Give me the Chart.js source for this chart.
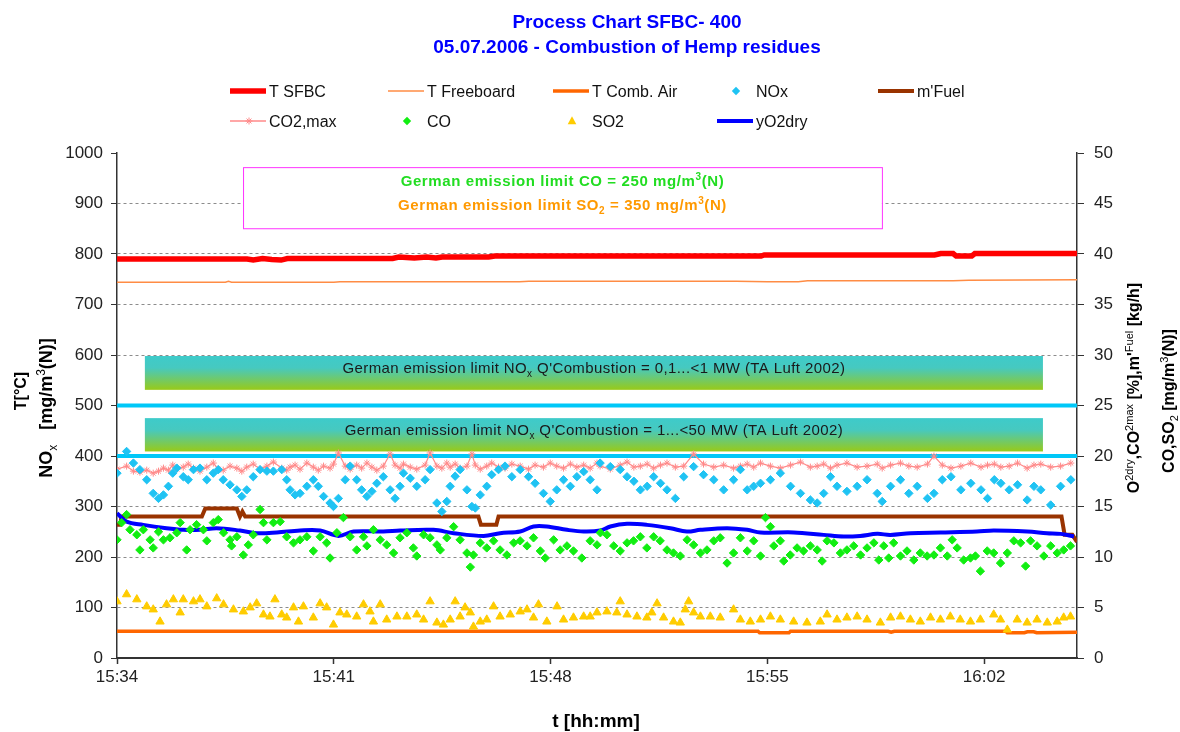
<!DOCTYPE html>
<html>
<head>
<meta charset="utf-8">
<title>Process Chart SFBC-400</title>
<script src="https://cdn.jsdelivr.net/npm/chart.js@4.4.1/dist/chart.umd.min.js"></script>
<style>
  html, body { margin: 0; padding: 0; background: #fff; }
  #chartBox { width: 1180px; height: 732px; }
</style>
</head>
<body>
<div id="chartBox"><canvas id="processChart" width="1180" height="732"></canvas></div>
<script>
// time is in minutes after 15:34
const xTickMinutes = [0, 7, 14, 21, 28];
const xTickLabels = ['15:34', '15:41', '15:48', '15:55', '16:02'];

// temperatures [°C], left axis
const tSfbcTime = [0, 4.2, 4.4, 4.7, 5.0, 5.3, 5.5, 8.9, 9.1, 9.6, 10.0, 10.3, 10.5, 12.0, 12.2, 20.8, 20.9, 26.4, 26.6, 27.0, 27.1, 27.6, 27.7, 31];
const tSfbcValue = [790, 790, 788, 791, 789, 788, 791, 791, 794, 792, 794, 792, 794, 794, 796, 796, 798, 798, 801, 801, 796, 796, 801, 801];
const tFreeTime = [0, 3.5, 3.6, 3.7, 7.0, 7.2, 13.0, 13.3, 20.0, 21.0, 22.0, 22.3, 27.0, 27.5, 31];
const tFreeValue = [744, 744, 746, 744, 744, 745, 745, 746, 746, 745, 745, 747, 747, 748, 749];
const tAirTime = [0, 20.7, 20.75, 21.7, 21.75, 24.9, 25.0, 25.1, 28.7, 28.75, 29.3, 29.4, 29.6, 29.7, 31];
const tAirValue = [53, 53, 50, 50, 53, 53, 51, 53, 53, 50, 50, 52, 52, 50, 51];

// NOx [mg/m3(N)], left axis (CO2,max sampled at the same instants)
const noxTime = [0, 0.31, 0.53, 0.74, 0.96, 1.17, 1.34, 1.5, 1.66, 1.8,
  1.93, 2.14, 2.3, 2.47, 2.68, 2.9, 3.11, 3.27, 3.43, 3.65,
  3.87, 4.03, 4.19, 4.4, 4.62, 4.84, 5.05, 5.32, 5.48, 5.59,
  5.75, 5.91, 6.13, 6.34, 6.5, 6.67, 6.88, 6.99, 7.15, 7.37,
  7.53, 7.74, 7.9, 8.07, 8.23, 8.39, 8.6, 8.82, 8.98, 9.14,
  9.25, 9.47, 9.68, 9.95, 10.11, 10.33, 10.49, 10.65, 10.76, 10.92,
  11.08, 11.3, 11.46, 11.57, 11.73, 11.94, 12.1, 12.32, 12.53, 12.75,
  13.02, 13.29, 13.5, 13.77, 13.99, 14.2, 14.42, 14.64, 14.85, 15.07,
  15.28, 15.5, 15.6, 15.93, 16.25, 16.47, 16.69, 16.9, 17.12, 17.33,
  17.55, 17.76, 18.03, 18.3, 18.62, 18.94, 19.27, 19.59, 19.91, 20.13,
  20.35, 20.56, 20.78, 21.1, 21.42, 21.75, 22.07, 22.39, 22.61, 22.82,
  23.04, 23.25, 23.57, 23.9, 24.22, 24.55, 24.71, 24.98, 25.3, 25.57,
  25.84, 26.17, 26.38, 26.65, 26.93, 27.25, 27.57, 27.9, 28.11, 28.33,
  28.54, 28.81, 29.08, 29.39, 29.61, 29.83, 30.15, 30.47, 30.8];
const noxValue = [366, 409, 386, 373, 353, 326, 316, 323, 340, 366,
  376, 359, 353, 373, 376, 353, 366, 373, 353, 343,
  333, 320, 333, 359, 373, 370, 370, 373, 353, 333,
  323, 326, 340, 353, 340, 320, 307, 300, 316, 353,
  380, 353, 333, 320, 330, 346, 359, 333, 316, 340,
  366, 356, 340, 353, 373, 307, 290, 310, 340, 360,
  373, 333, 300, 297, 323, 340, 363, 373, 380, 359,
  373, 359, 346, 326, 310, 333, 353, 340, 359, 369,
  353, 333, 386, 379, 373, 359, 350, 333, 340, 359,
  346, 333, 316, 359, 379, 363, 353, 333, 353, 373,
  333, 340, 346, 353, 366, 340, 326, 313, 307, 326,
  359, 340, 330, 340, 353, 326, 310, 340, 353, 326,
  340, 316, 326, 353, 359, 333, 346, 333, 316, 353,
  346, 333, 343, 313, 340, 333, 303, 340, 353];
const noxLimitTime = [0, 31];
const noxLimitHigh = [500, 500];
const noxLimitLow = [400, 400];

// right axis: CO2,max [%], O2 dry [%], fuel mass flow [kg/h], CO and SO2
const co2Value = [18.7, 19.0, 18.5, 18.4, 18.6, 18.3, 18.5, 18.8, 18.6, 19.1,
  18.7, 18.9, 19.2, 18.8, 18.5, 18.9, 19.3, 18.7, 18.6, 19.0,
  18.8, 18.5, 18.9, 19.2, 18.7, 19.0, 19.4, 18.8, 18.6, 18.9,
  19.1, 18.7, 19.3, 18.9, 18.6, 19.0, 18.8, 19.2, 20.3, 19.0,
  18.7, 19.1, 18.8, 19.3, 18.9, 18.6, 19.0, 20.2, 19.1, 18.8,
  19.2, 18.9, 18.7, 19.1, 20.3, 19.0, 18.8, 19.3, 18.9, 19.2,
  18.8, 19.0, 20.2, 19.1, 18.7, 19.0, 19.3, 18.9, 18.8, 19.2,
  19.0, 18.7, 19.1, 18.9, 19.3, 19.0, 18.8, 19.2, 18.9, 19.1,
  18.8, 19.3, 19.0, 18.7, 19.1, 19.4, 18.9, 19.0, 19.2, 18.8,
  19.1, 19.3, 18.9, 19.0, 20.2, 19.2, 18.9, 19.1, 18.8, 19.0,
  19.2, 18.9, 19.3, 19.0, 18.8, 19.1, 19.4, 18.9, 19.0, 19.2,
  18.8, 19.1, 19.3, 18.9, 19.0, 19.2, 18.8, 19.1, 19.3, 19.0,
  18.9, 19.2, 20.0, 19.1, 18.8, 19.0, 19.3, 18.9, 19.1, 19.2,
  18.9, 19.0, 19.3, 18.8, 19.1, 19.2, 18.9, 19.0, 19.3];

const o2Time = [0, 0.31, 0.85, 1.6, 2.14, 2.68, 3.22, 3.97, 4.51, 5.16,
  5.91, 6.56, 7.15, 7.64, 8.6, 9.14, 10.22, 10.87, 11.84, 12.37,
  13.02, 13.45, 13.88, 14.53, 15.07, 15.61, 15.93, 16.47, 17.11, 17.87,
  18.4, 18.84, 19.7, 20.35, 20.78, 21.85, 22.82, 23.47, 24.0, 24.55,
  24.97, 25.62, 26.59, 27.77, 28.31, 29.39, 30.03, 30.47, 30.9];
const o2Value = [14.34, 13.51, 13.18, 12.85, 12.69, 12.69, 12.85, 12.62, 12.36, 12.43,
  12.62, 12.62, 12.09, 12.52, 12.52, 12.62, 12.69, 12.36, 12.09, 12.36,
  12.52, 13.02, 13.02, 12.69, 12.52, 12.62, 13.02, 13.28, 13.18, 12.85,
  12.52, 12.69, 12.85, 12.69, 12.43, 12.43, 12.19, 12.03, 12.09, 12.29,
  12.19, 12.36, 12.43, 12.52, 12.62, 12.52, 12.36, 12.29, 12.03];

const fuelTime = [0, 0.1, 0.15, 2.74, 2.85, 3.87, 3.97, 4.05, 4.14, 11.67, 11.75, 12.25, 12.32, 30.5, 30.6, 30.85, 31];
const fuelValue = [13.2, 13.2, 14.0, 14.0, 14.8, 14.8, 14.0, 14.5, 14.0, 14.0, 13.2, 13.2, 14.0, 14.0, 12.2, 12.2, 11.5];

const coTime = [0, 0.15, 0.31, 0.42, 0.64, 0.74, 0.85, 1.07, 1.17, 1.34,
  1.5, 1.71, 1.93, 2.04, 2.25, 2.36, 2.57, 2.79, 2.9, 3.11,
  3.27, 3.44, 3.65, 3.7, 3.87, 4.08, 4.24, 4.4, 4.62, 4.73,
  4.84, 5.05, 5.27, 5.48, 5.7, 5.91, 6.13, 6.34, 6.56, 6.77,
  6.88, 7.1, 7.31, 7.53, 7.74, 7.96, 8.07, 8.28, 8.5, 8.71,
  8.93, 9.14, 9.36, 9.57, 9.68, 9.9, 10.11, 10.33, 10.44, 10.65,
  10.87, 11.08, 11.3, 11.41, 11.51, 11.73, 11.94, 12.16, 12.37, 12.59,
  12.81, 13.02, 13.24, 13.45, 13.67, 13.83, 14.1, 14.31, 14.53, 14.74,
  15.01, 15.28, 15.5, 15.61, 15.82, 16.04, 16.25, 16.47, 16.68, 16.9,
  17.11, 17.33, 17.54, 17.76, 17.97, 18.19, 18.41, 18.62, 18.84, 19.05,
  19.27, 19.48, 19.7, 19.91, 20.13, 20.35, 20.56, 20.78, 20.94, 21.1,
  21.21, 21.42, 21.53, 21.74, 21.96, 22.17, 22.39, 22.61, 22.77, 22.93,
  23.15, 23.36, 23.57, 23.79, 24.01, 24.22, 24.44, 24.6, 24.76, 24.92,
  25.08, 25.3, 25.51, 25.73, 25.94, 26.16, 26.38, 26.59, 26.81, 26.97,
  27.13, 27.34, 27.56, 27.72, 27.88, 28.1, 28.31, 28.53, 28.75, 28.96,
  29.18, 29.34, 29.5, 29.71, 29.93, 30.15, 30.36, 30.57, 30.79];
const coValue = [11.7, 13.4, 14.2, 12.7, 12.2, 10.7, 12.7, 11.7, 10.9, 12.5,
  11.7, 11.9, 12.4, 13.4, 10.7, 12.7, 13.2, 12.7, 11.6, 13.4,
  13.7, 12.4, 11.7, 11.1, 12.0, 10.2, 11.2, 12.2, 14.7, 13.4,
  11.7, 13.4, 13.5, 12.0, 11.4, 11.7, 12.0, 10.6, 12.0, 11.4,
  9.9, 12.4, 13.9, 12.0, 10.7, 12.0, 11.1, 12.7, 11.7, 11.2,
  10.4, 11.9, 12.4, 10.9, 10.1, 12.2, 11.9, 11.2, 10.7, 11.9,
  13.0, 11.7, 10.4, 9.0, 10.2, 11.4, 10.9, 11.6, 10.7, 10.2,
  11.4, 11.6, 11.1, 11.9, 10.6, 9.9, 11.7, 10.7, 11.1, 10.6,
  9.9, 11.6, 11.2, 12.4, 12.2, 11.1, 10.6, 11.4, 11.6, 12.0,
  10.9, 12.0, 11.6, 10.7, 10.4, 10.1, 11.7, 11.2, 10.4, 10.7,
  11.6, 11.9, 9.4, 10.4, 11.9, 10.6, 11.6, 10.1, 13.9, 13.0,
  11.1, 11.6, 9.6, 10.2, 10.9, 10.6, 11.1, 10.7, 9.6, 11.6,
  11.4, 10.4, 10.7, 11.1, 10.2, 10.9, 11.4, 9.7, 11.1, 9.9,
  11.4, 10.1, 10.6, 9.7, 10.4, 10.1, 10.2, 10.9, 10.1, 11.7,
  10.9, 9.7, 9.9, 10.1, 8.6, 10.6, 10.4, 9.4, 10.4, 11.6,
  11.4, 9.1, 11.6, 11.1, 10.1, 11.1, 10.4, 10.7, 11.1];

const so2Time = [0, 0.31, 0.64, 0.96, 1.17, 1.39, 1.6, 1.82, 2.04, 2.14,
  2.47, 2.68, 2.9, 3.22, 3.44, 3.76, 4.08, 4.3, 4.51, 4.73,
  4.94, 5.1, 5.32, 5.48, 5.7, 5.86, 6.02, 6.34, 6.56, 6.77,
  6.99, 7.2, 7.42, 7.74, 7.96, 8.17, 8.28, 8.5, 8.71, 9.04,
  9.36, 9.68, 9.9, 10.11, 10.33, 10.54, 10.76, 10.92, 11.08, 11.24,
  11.41, 11.51, 11.73, 11.94, 12.16, 12.37, 12.7, 13.02, 13.24, 13.45,
  13.61, 13.88, 14.21, 14.42, 14.74, 15.07, 15.28, 15.5, 15.82, 16.14,
  16.25, 16.47, 16.79, 17.11, 17.27, 17.44, 17.65, 17.97, 18.19, 18.35,
  18.46, 18.62, 18.84, 19.16, 19.48, 19.91, 20.13, 20.45, 20.78, 21.1,
  21.42, 21.85, 22.28, 22.71, 22.93, 23.25, 23.57, 23.9, 24.22, 24.65,
  24.98, 25.3, 25.62, 25.94, 26.27, 26.59, 26.91, 27.23, 27.56, 27.88,
  28.31, 28.53, 28.75, 29.07, 29.39, 29.71, 30.04, 30.36, 30.57, 30.79];
const so2Value = [5.6, 6.3, 5.8, 5.1, 4.8, 3.6, 5.3, 5.8, 4.5, 5.8,
  5.6, 5.8, 5.1, 5.9, 5.3, 4.8, 4.6, 5.0, 5.4, 4.3,
  4.1, 5.8, 4.3, 4.0, 5.0, 3.6, 5.1, 4.0, 5.4, 5.0,
  3.3, 4.5, 4.3, 4.1, 5.3, 4.6, 3.6, 5.3, 3.8, 4.1,
  4.1, 4.3, 3.8, 5.6, 3.5, 3.3, 3.8, 5.6, 4.1, 5.0,
  4.5, 3.1, 3.6, 3.8, 5.1, 4.1, 4.3, 4.6, 4.8, 4.0,
  5.3, 3.6, 5.1, 3.8, 4.0, 4.1, 4.1, 4.5, 4.6, 4.5,
  5.6, 4.3, 4.1, 4.0, 4.5, 5.4, 4.0, 3.6, 3.5, 4.8,
  5.6, 4.5, 4.1, 4.1, 4.0, 4.8, 3.8, 3.6, 3.8, 4.1,
  3.8, 3.6, 3.5, 3.6, 4.3, 3.8, 4.0, 4.1, 3.8, 3.5,
  4.0, 4.1, 3.8, 3.6, 4.0, 3.8, 4.1, 3.8, 3.6, 3.8,
  4.3, 3.8, 2.8, 3.8, 3.5, 3.8, 3.5, 3.6, 4.0, 4.1];

const FONT = '"Liberation Sans", Arial, sans-serif';
Chart.defaults.font.family = FONT;

function pts(xs, ys) {
  const n = Math.min(xs.length, ys.length);
  const out = [];
  for (let i = 0; i < n; i++) out.push({ x: xs[i], y: ys[i] });
  return out;
}

function fontFor(size, weight) {
  return weight + ' ' + size + 'px ' + FONT;
}

// text with sub / superscript pieces, y = baseline
function drawRich(ctx, parts, x, y, o) {
  const small = Math.round(o.size * 0.66);
  ctx.letterSpacing = o.spacing || '0px';
  const spec = parts.map(p => ({ t: p[0], m: p[1], f: p[1] ? fontFor(small, o.smallWeight || o.weight) : fontFor(o.size, o.weight) }));
  let w = 0;
  spec.forEach(p => { ctx.font = p.f; p.w = ctx.measureText(p.t).width; w += p.w; });
  let cx = o.align === 'center' ? x - w / 2 : x;
  ctx.fillStyle = o.color;
  ctx.textAlign = 'left';
  ctx.textBaseline = 'alphabetic';
  spec.forEach(p => {
    ctx.font = p.f;
    const dy = p.m === 'sup' ? -o.size * 0.4 : (p.m === 'sub' ? o.size * 0.25 : 0);
    ctx.fillText(p.t, cx, y + dy);
    cx += p.w;
  });
  ctx.letterSpacing = '0px';
}

function drawMarker(ctx, style, x, y, r, color) {
  ctx.save();
  ctx.fillStyle = color;
  ctx.strokeStyle = color;
  ctx.lineWidth = 1;
  ctx.beginPath();
  if (style === 'rectRot') {
    ctx.moveTo(x, y - r); ctx.lineTo(x + r, y); ctx.lineTo(x, y + r); ctx.lineTo(x - r, y);
    ctx.closePath(); ctx.fill();
  } else if (style === 'triangle') {
    ctx.moveTo(x, y - r); ctx.lineTo(x + r * 0.9, y + r * 0.7); ctx.lineTo(x - r * 0.9, y + r * 0.7);
    ctx.closePath(); ctx.fill();
  } else if (style === 'star') {
    ctx.moveTo(x - r, y); ctx.lineTo(x + r, y);
    ctx.moveTo(x, y - r); ctx.lineTo(x, y + r);
    ctx.moveTo(x - r * 0.7, y - r * 0.7); ctx.lineTo(x + r * 0.7, y + r * 0.7);
    ctx.moveTo(x - r * 0.7, y + r * 0.7); ctx.lineTo(x + r * 0.7, y - r * 0.7);
    ctx.stroke();
  } else {
    ctx.arc(x, y, r, 0, Math.PI * 2); ctx.fill();
  }
  ctx.restore();
}

// where the decorations sit (x in minutes, y in left axis units)
const noxBoxes = [
  { from: 0.9, to: 29.9, top: 598, bottom: 531, textY: 373,
    parts: [['German emission limit NO', ''], ['x', 'sub'], [" Q'Combustion = 0,1...<1 MW (TA Luft 2002)", '']] },
  { from: 0.9, to: 29.9, top: 475, bottom: 409, textY: 435,
    parts: [['German emission limit NO', ''], ['x', 'sub'], [" Q'Combustion = 1...<50 MW (TA Luft 2002)", '']] }
];
const limitBox = { from: 4.07, to: 24.7, top: 972, bottom: 851 };
const legendSlots = [[230, 91], [388, 91], [553, 91], [717, 91], [878, 91], [230, 121], [388, 121], [553, 121], [717, 121]];

const decorations = {
  id: 'decorations',
  beforeDatasetsDraw(chart) {
    const ctx = chart.ctx;
    const xs = chart.scales.x, ys = chart.scales.y;
    ctx.save();
    noxBoxes.forEach(b => {
      const l = xs.getPixelForValue(b.from), r = xs.getPixelForValue(b.to);
      const t = ys.getPixelForValue(b.top), btm = ys.getPixelForValue(b.bottom);
      const g = ctx.createLinearGradient(0, t, 0, btm);
      g.addColorStop(0, '#3ecbca');
      g.addColorStop(0.35, '#46c9c0');
      g.addColorStop(1, '#98ca18');
      ctx.fillStyle = g;
      ctx.fillRect(l, t, r - l, btm - t);
      drawRich(ctx, b.parts, (l + r) / 2, b.textY, { size: 15, weight: 'normal', color: '#1a1a1a', align: 'center', spacing: '0.4px' });
    });
    const l = xs.getPixelForValue(limitBox.from), r = xs.getPixelForValue(limitBox.to);
    const t = ys.getPixelForValue(limitBox.top), btm = ys.getPixelForValue(limitBox.bottom);
    ctx.fillStyle = '#fff';
    ctx.fillRect(l, t, r - l, btm - t);
    ctx.strokeStyle = '#ff33ff';
    ctx.lineWidth = 1;
    ctx.strokeRect(l + 0.5, t + 0.5, r - l, btm - t);
    drawRich(ctx, [['German emission limit CO = 250 mg/m', ''], ['3', 'sup'], ['(N)', '']], (l + r) / 2, t + 19,
      { size: 15, weight: 'bold', color: '#22dd22', align: 'center', spacing: '0.6px' });
    drawRich(ctx, [['German emission limit SO', ''], ['2', 'sub'], [' = 350 mg/m', ''], ['3', 'sup'], ['(N)', '']], (l + r) / 2, t + 43,
      { size: 15, weight: 'bold', color: '#ff9900', align: 'center', spacing: '0.6px' });
    ctx.restore();
  },
  afterDraw(chart) {
    const ctx = chart.ctx;
    ctx.save();
    // title
    ctx.fillStyle = '#0000ff';
    ctx.textAlign = 'center';
    ctx.textBaseline = 'alphabetic';
    ctx.font = fontFor(19, 'bold');
    ctx.fillText('Process Chart SFBC- 400', 627, 28);
    ctx.fillText('05.07.2006 - Combustion of Hemp residues', 627, 53);

    // legend
    let slot = 0;
    chart.data.datasets.forEach(ds => {
      if (ds.hideInLegend) return;
      const [lx, ly] = legendSlots[slot++];
      if (ds.showLine) {
        ctx.strokeStyle = ds.borderColor;
        ctx.lineWidth = Math.max(ds.borderWidth, 1.5);
        ctx.beginPath();
        ctx.moveTo(lx, ly); ctx.lineTo(lx + 36, ly);
        ctx.stroke();
      }
      if (ds.pointRadius > 0) drawMarker(ctx, ds.pointStyle, lx + 19, ly, ds.pointRadius, ds.pointBorderColor || ds.borderColor);
      ctx.fillStyle = '#111';
      ctx.textAlign = 'left';
      ctx.font = fontFor(16, 'normal');
      ctx.fillText(ds.label, lx + 39, ly + 6);
    });

    // axis titles
    ctx.font = fontFor(19, 'bold');
    ctx.fillStyle = '#000';
    ctx.textAlign = 'center';
    ctx.fillText('t [hh:mm]', 596, 727);

    const vertical = (x, yc, parts, size) => {
      ctx.save();
      ctx.translate(x, yc);
      ctx.rotate(-Math.PI / 2);
      drawRich(ctx, parts, 0, 0, { size: size, weight: 'bold', smallWeight: 'normal', color: '#000', align: 'center' });
      ctx.restore();
    };
    vertical(26, 391, [['T[°C]', '']], 16);
    vertical(52, 408, [['NO', ''], ['x', 'sub'], ['   [mg/m', ''], ['3', 'sup'], ['(N)]', '']], 18);
    vertical(1139, 388, [['O', ''], ['2dry', 'sup'], [',CO', ''], ['2max', 'sup'], [" [%],m'", ''], ['Fuel', 'sup'], [' [kg/h]', '']], 16);
    vertical(1174, 401, [['CO,SO', ''], ['2', 'sub'], [' [mg/m', ''], ['3', 'sup'], ['(N)]', '']], 16);
    ctx.restore();
  }
};

function lineSet(label, xs, ys, color, width, axis, order, extra) {
  return Object.assign({
    label: label, data: pts(xs, ys), yAxisID: axis, order: order,
    showLine: true, borderColor: color, backgroundColor: color, borderWidth: width,
    pointRadius: 0, pointHoverRadius: 0, tension: 0
  }, extra || {});
}

function pointSet(label, xs, ys, color, style, radius, axis, order) {
  return {
    label: label, data: pts(xs, ys), yAxisID: axis, order: order,
    showLine: false, pointStyle: style, pointRadius: radius,
    backgroundColor: color, borderColor: color, pointBorderColor: color, pointBorderWidth: 1
  };
}

const datasets = [
  lineSet('T SFBC', tSfbcTime, tSfbcValue, '#ff0000', 5.5, 'y', 5),
  lineSet('T Freeboard', tFreeTime, tFreeValue, '#ff8c44', 1.5, 'y', 5),
  lineSet('T Comb. Air', tAirTime, tAirValue, '#ff6600', 3.5, 'y', 5),
  pointSet('NOx', noxTime, noxValue, '#1fc3f3', 'rectRot', 4.2, 'y', 1),
  lineSet("m'Fuel", fuelTime, fuelValue, '#993300', 4, 'y2', 4),
  lineSet('CO2,max', noxTime, co2Value, '#ff8a8a', 1.2, 'y2', 3,
    { pointStyle: 'star', pointRadius: 3.5, pointBorderColor: '#ff8a8a', pointBorderWidth: 1 }),
  pointSet('CO', coTime, coValue, '#11ee11', 'rectRot', 4.2, 'y2', 1),
  pointSet('SO2', so2Time, so2Value, '#ffcc00', 'triangle', 4.8, 'y2', 1),
  lineSet('yO2dry', o2Time, o2Value, '#0000ff', 4, 'y2', 2, { tension: 0.35 }),
  lineSet('NOx limit 0,1...<1 MW', noxLimitTime, noxLimitHigh, '#00c8f8', 4, 'y', 6, { hideInLegend: true }),
  lineSet('NOx limit 1...<50 MW', noxLimitTime, noxLimitLow, '#00c8f8', 4, 'y', 6, { hideInLegend: true })
];

const tickFont = { size: 17, family: FONT };

new Chart(document.getElementById('processChart'), {
  type: 'scatter',
  data: { datasets: datasets },
  options: {
    responsive: false,
    animation: false,
    layout: { padding: { top: 153, left: 0, right: 0, bottom: 0 } },
    plugins: { legend: { display: false }, title: { display: false }, tooltip: { enabled: false } },
    scales: {
      x: {
        type: 'linear', min: 0, max: 31,
        afterBuildTicks: s => { s.ticks = xTickMinutes.map(v => ({ value: v })); },
        afterFit: s => { s.height = 74; },
        ticks: {
          autoSkip: false, maxRotation: 0, padding: 3, color: '#222', font: tickFont,
          callback: v => { const i = xTickMinutes.indexOf(v); return i >= 0 ? xTickLabels[i] : ''; }
        },
        grid: { drawOnChartArea: false, drawTicks: true, tickLength: 6, tickColor: '#333', tickWidth: 1.5 },
        border: { color: '#333', width: 2 }
      },
      y: {
        position: 'left', min: 0, max: 1000,
        afterFit: s => { s.width = 117; },
        ticks: { stepSize: 100, padding: 8, color: '#222', font: tickFont, callback: v => String(v) },
        grid: {
          color: c => (c.tick && c.tick.value === 1000) ? 'rgba(0,0,0,0)' : '#8c8c8c',
          lineWidth: 1, tickLength: 6, tickColor: '#333', tickBorderDash: []
        },
        border: { color: '#333', width: 1.5, dash: [3, 3] }
      },
      y2: {
        position: 'right', min: 0, max: 50,
        afterFit: s => { s.width = 103; },
        ticks: { stepSize: 5, padding: 10, color: '#222', font: tickFont, callback: v => String(v) },
        grid: { drawOnChartArea: false, tickLength: 7, tickColor: '#333' },
        border: { color: '#333', width: 1.5 }
      }
    }
  },
  plugins: [decorations]
});
</script>
</body>
</html>
